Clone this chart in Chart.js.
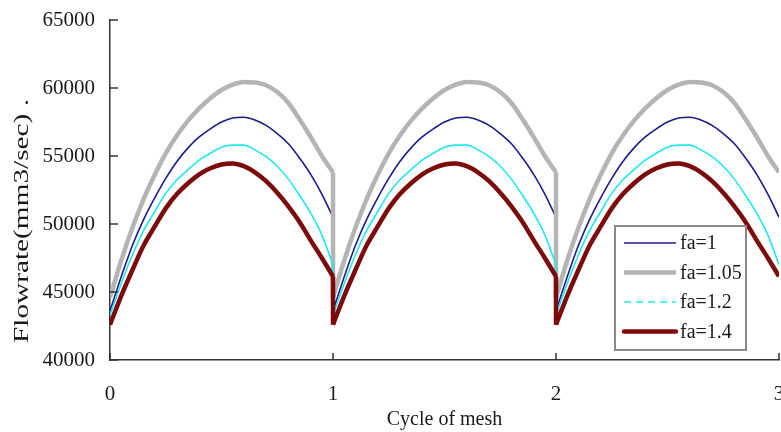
<!DOCTYPE html>
<html>
<head>
<meta charset="utf-8">
<script src="https://cdn.jsdelivr.net/npm/chart.js@4.4.1/dist/chart.umd.min.js"></script>
<style>
  html, body { margin: 0; padding: 0; background: #fff; }
</style>
</head>
<body>
<canvas id="myChart" width="781" height="432"></canvas>
<script>
// one cycle of mesh, every 0.05 cycle (the 3 cycles are identical)
var phase = [0, 0.05, 0.1, 0.15, 0.2, 0.25, 0.3, 0.35, 0.4, 0.45, 0.5,
             0.55, 0.6, 0.65, 0.7, 0.75, 0.8, 0.85, 0.9, 0.95, 1];
var cycles = [0, 1, 2];

var flowFa100 = [43600, 46100, 48400, 50300, 51900, 53350, 54600, 55600, 56400, 57000, 57500,
                 57800, 57850, 57650, 57250, 56650, 55900, 54850, 53650, 52200, 50500];
var flowFa105 = [44600, 47300, 49700, 51800, 53600, 55200, 56500, 57600, 58500, 59250, 59850,
                 60250, 60450, 60400, 60200, 59700, 58900, 57700, 56400, 55000, 53800];
var flowFa120 = [43300, 45600, 47700, 49500, 50900, 52250, 53250, 54000, 54700, 55200, 55650,
                 55800, 55800, 55450, 54950, 54250, 53300, 52100, 50800, 49200, 47000];
var flowFa140 = [42600, 44700, 46600, 48400, 49800, 51150, 52200, 53000, 53650, 54100, 54380,
                 54450, 54250, 53800, 53150, 52300, 51300, 50150, 48800, 47500, 46150];

var seriesLabels = ['fa=1', 'fa=1.05', 'fa=1.2', 'fa=1.4'];
var xTicks = [0, 1, 2, 3];
var yTicks = [40000, 45000, 50000, 55000, 60000, 65000];

var serif = "'Liberation Serif', 'Times New Roman', serif";
var textColor = '#1a1a1a';
var axisColor = '#333333';

var styles = [
    { color: '#1c1c8a', width: 1.6, dash: [] },
    { color: '#b4b4b4', width: 4.5, dash: [] },
    { color: '#22e6f0', width: 1.6, dash: [7, 5] },
    { color: '#7d0a0a', width: 4.5, dash: [] }
];
var allValues = [flowFa100, flowFa105, flowFa120, flowFa140];

// each cycle is its own smooth piece; the jump at the cycle boundary is a straight drop
var datasets = [];
allValues.forEach(function (vals, k) {
    var base = {
        label: seriesLabels[k],
        borderColor: styles[k].color,
        borderWidth: styles[k].width,
        pointRadius: 0,
        fill: false,
        order: 4 - k // later series on top
    };
    cycles.forEach(function (c) {
        datasets.push(Object.assign({}, base, {
            data: phase.map(function (p, i) { return { x: c + p, y: vals[i] }; }),
            cubicInterpolationMode: 'monotone'
        }));
        if (c > 0) {
            datasets.push(Object.assign({}, base, {
                data: [{ x: c, y: vals[vals.length - 1] }, { x: c, y: vals[0] }],
                tension: 0
            }));
        }
    });
});

// inward ticks, rotated y title and boxed legend
var extras = {
    id: 'extras',
    afterDraw: function (chart) {
        var ctx = chart.ctx, xs = chart.scales.x, ys = chart.scales.y;
        ctx.save();
        ctx.strokeStyle = axisColor;
        ctx.lineWidth = 1.5;
        ctx.beginPath();
        yTicks.forEach(function (v) {
            var p = ys.getPixelForValue(v);
            ctx.moveTo(xs.left, p);
            ctx.lineTo(xs.left + 8, p);
        });
        xTicks.forEach(function (v) {
            var p = xs.getPixelForValue(v);
            ctx.moveTo(p, ys.bottom);
            ctx.lineTo(p, ys.bottom - 7);
        });
        ctx.stroke();

        // y title, stretched like the original
        ctx.save();
        ctx.translate(22, 221);
        ctx.rotate(-Math.PI / 2);
        ctx.font = '22px ' + serif;
        var yTitle = 'Flowrate(mm3/sec) .';
        var w = ctx.measureText(yTitle).width;
        ctx.scale(244 / w, 1);
        ctx.fillStyle = textColor;
        ctx.textAlign = 'center';
        ctx.textBaseline = 'middle';
        ctx.fillText(yTitle, 0, 0);
        ctx.restore();

        // legend
        var bx = 615, by = 226, bw = 131, bh = 124;
        ctx.fillStyle = '#ffffff';
        ctx.fillRect(bx, by, bw, bh);
        ctx.strokeStyle = '#8a8a8a';
        ctx.lineWidth = 2;
        ctx.strokeRect(bx, by, bw, bh);
        ctx.font = '20px ' + serif;
        ctx.textAlign = 'left';
        ctx.textBaseline = 'middle';
        seriesLabels.forEach(function (lab, k) {
            var y = by + 17 + k * 29.5;
            ctx.beginPath();
            ctx.strokeStyle = styles[k].color;
            ctx.lineWidth = styles[k].width;
            ctx.setLineDash(styles[k].dash);
            ctx.lineCap = k === 3 ? 'round' : 'butt';
            ctx.moveTo(bx + 9, y);
            ctx.lineTo(bx + 61, y);
            ctx.stroke();
            ctx.setLineDash([]);
            ctx.fillStyle = textColor;
            ctx.fillText(lab, bx + 65, y + 1);
        });
        ctx.restore();
    }
};

var ctx = document.getElementById('myChart').getContext('2d');
var myChart = new Chart(ctx, {
    type: 'line',
    data: { datasets: datasets },
    options: {
        responsive: false,
        animation: false,
        layout: { padding: { top: 20, right: 2, left: 0, bottom: 0 } },
        plugins: { legend: { display: false }, tooltip: { enabled: false } },
        scales: {
            x: {
                type: 'linear',
                min: 0,
                max: 3,
                grid: { display: false, drawTicks: false },
                border: { display: true, color: axisColor, width: 1.5 },
                ticks: {
                    stepSize: 1,
                    padding: 22,
                    color: textColor,
                    font: { family: serif, size: 21 }
                },
                title: {
                    display: true,
                    text: 'Cycle of mesh',
                    color: textColor,
                    font: { family: serif, size: 20 },
                    padding: 0
                },
                afterFit: function (scale) {
                    scale.height = 72;
                    scale.paddingLeft = 0;
                    scale.paddingRight = 0;
                }
            },
            y: {
                min: 40000,
                max: 65000,
                grid: { display: false, drawTicks: false },
                border: { display: true, color: axisColor, width: 1.5 },
                ticks: {
                    stepSize: 5000,
                    padding: 15,
                    color: textColor,
                    font: { family: serif, size: 21 },
                    callback: function (value) { return String(value); }
                },
                afterFit: function (scale) {
                    scale.width = 110;
                    scale.paddingTop = 0;
                    scale.paddingBottom = 0;
                }
            }
        }
    },
    plugins: [extras]
});
</script>
</body>
</html>
